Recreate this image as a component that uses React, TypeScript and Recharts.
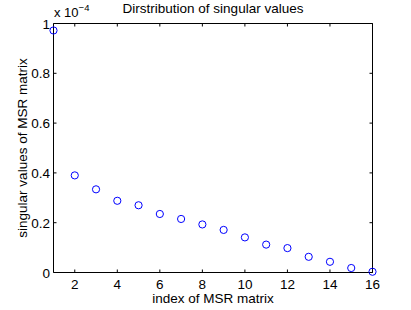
import { ScatterChart, Scatter, XAxis, YAxis, ReferenceArea } from "recharts";

const indices = [1, 2, 3, 4, 5, 6, 7, 8, 9, 10, 11, 12, 13, 14, 15, 16];
// singular values, in units of 1e-4
const singularValues = [
    0.972, 0.39, 0.334, 0.288, 0.27, 0.235, 0.215, 0.193, 0.171, 0.141, 0.112, 0.098, 0.063, 0.043,
    0.018, 0.003,
];
const xTicks = [2, 4, 6, 8, 10, 12, 14, 16];
const yTicks = [0, 0.2, 0.4, 0.6, 0.8, 1];
const yTickLabels = ["0", "0.2", "0.4", "0.6", "0.8", "1"];

const W = 411;
const H = 310;
const PLOT_LEFT = 53.5;
const PLOT_RIGHT = 372.5;
const PLOT_TOP = 23.5;
const PLOT_BOTTOM = 272.5;
const TICK_LEN = 3;
const FONT = "'Liberation Sans', Arial, Helvetica, sans-serif";

const data = indices.map((idx, i) => ({ idx, value: singularValues[i] }));

function XTick(props: any) {
    const { x, payload } = props;
    return (
        <g>
            <line x1={x} x2={x} y1={PLOT_BOTTOM} y2={PLOT_BOTTOM - TICK_LEN} stroke="#000" />
            <line x1={x} x2={x} y1={PLOT_TOP} y2={PLOT_TOP + TICK_LEN} stroke="#000" />
            <text x={x} y={289} textAnchor="middle" fontSize={13.5} fontFamily={FONT} fill="#000">
                {payload.value}
            </text>
        </g>
    );
}

function YTick(props: any) {
    const { y, payload, index } = props;
    return (
        <g>
            <line x1={PLOT_LEFT} x2={PLOT_LEFT + TICK_LEN} y1={y} y2={y} stroke="#000" />
            <line x1={PLOT_RIGHT} x2={PLOT_RIGHT - TICK_LEN} y1={y} y2={y} stroke="#000" />
            <text x={50} y={y + 5} textAnchor="end" fontSize={13.5} fontFamily={FONT} fill="#000">
                {yTickLabels[index] ?? payload.value}
            </text>
        </g>
    );
}

function Ring(props: any) {
    const { cx, cy } = props;
    return <circle cx={cx} cy={cy} r={3.6} fill="none" stroke="#0000ff" strokeWidth={1} />;
}

export default function App() {
    return (
        <div style={{ position: "absolute", left: 0, top: 0, width: W, height: H, background: "#fff" }}>
            <ScatterChart
                width={W}
                height={H}
                margin={{ top: PLOT_TOP, right: W - PLOT_RIGHT, bottom: 0, left: 0 }}
            >
                <XAxis
                    type="number"
                    dataKey="idx"
                    domain={[1, 16]}
                    ticks={xTicks}
                    interval={0}
                    height={H - PLOT_BOTTOM}
                    axisLine={false}
                    tickLine={false}
                    tick={<XTick />}
                />
                <YAxis
                    type="number"
                    dataKey="value"
                    domain={[0, 1]}
                    ticks={yTicks}
                    interval={0}
                    width={PLOT_LEFT}
                    axisLine={false}
                    tickLine={false}
                    tick={<YTick />}
                />
                <ReferenceArea x1={1} x2={16} y1={0} y2={1} fill="none" stroke="#000" strokeWidth={1} fillOpacity={0} />
                <Scatter data={data} shape={<Ring />} isAnimationActive={false} />
            </ScatterChart>
            <svg
                width={W}
                height={H}
                style={{ position: "absolute", left: 0, top: 0, pointerEvents: "none" }}
            >
                <text x={213} y={13} textAnchor="middle" fontSize={13.5} fontFamily={FONT} fill="#000">
                    Dirstribution of singular values
                </text>
                <text x={54} y={17} fontSize={13} fontFamily={FONT} fill="#000">
                    x 10
                    <tspan dy={-6} fontSize={9.5}>
                        −4
                    </tspan>
                </text>
                <text x={213} y={303} textAnchor="middle" fontSize={13.5} fontFamily={FONT} fill="#000">
                    index of MSR matrix
                </text>
                <text
                    x={0}
                    y={0}
                    transform="translate(27 148) rotate(-90)"
                    textAnchor="middle"
                    fontSize={13.5}
                    fontFamily={FONT}
                    fill="#000"
                >
                    singular values of MSR matrix
                </text>
            </svg>
        </div>
    );
}
